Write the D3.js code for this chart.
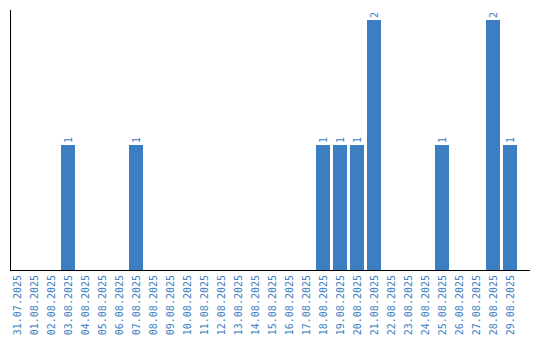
<!DOCTYPE html>
<html><head><meta charset="utf-8">
<script src="https://cdn.jsdelivr.net/npm/d3@7"></script>
<style>body{margin:0;background:#fff}svg{display:block}</style>
</head><body>
<svg id="c" width="540" height="340"></svg>
<script>
const categories = ["31.07.2025","01.08.2025","02.08.2025","03.08.2025","04.08.2025","05.08.2025","06.08.2025","07.08.2025","08.08.2025","09.08.2025","10.08.2025","11.08.2025","12.08.2025","13.08.2025","14.08.2025","15.08.2025","16.08.2025","17.08.2025","18.08.2025","19.08.2025","20.08.2025","21.08.2025","22.08.2025","23.08.2025","24.08.2025","25.08.2025","26.08.2025","27.08.2025","28.08.2025","29.08.2025"];
const values = [0,0,0,1,0,0,0,1,0,0,0,0,0,0,0,0,0,0,1,1,1,2,0,0,0,1,0,0,2,1];

const svg = d3.select("#c");
const color = "#3b7ec1";
const font = "'DejaVu Sans Mono', monospace";
const x = d3.scaleBand().domain(categories).range([10, 517]).paddingInner(3/17).paddingOuter(0);
const y = d3.scaleLinear().domain([0, 2]).range([270, 20]);

const data = categories.map((c, i) => ({c, v: values[i]}));

svg.selectAll("rect.bar").data(data.filter(d => d.v > 0)).join("rect")
  .attr("class", "bar")
  .attr("x", d => x(d.c)).attr("width", x.bandwidth())
  .attr("y", d => y(d.v)).attr("height", d => y(0) - y(d.v))
  .attr("fill", color);

svg.selectAll("text.val").data(data.filter(d => d.v > 0)).join("text")
  .attr("class", "val")
  .attr("transform", d => `translate(${x(d.c) + x.bandwidth()/2 + 3.5},${y(d.v) - 2}) rotate(-90)`)
  .attr("font-family", font).attr("font-size", 10)
  .attr("fill", color).text(d => d.v);

const xAxis = d3.axisBottom(x).tickSize(0).tickPadding(0);
const gx = svg.append("g").attr("transform", "translate(0,270)").call(xAxis);
gx.select(".domain").remove();
gx.selectAll("text")
  .attr("font-family", font).attr("font-size", 10).attr("fill", color)
  .attr("text-anchor", "end").attr("dy", null)
  .attr("transform", "translate(3.5,5) rotate(-90)")
  .attr("x", 0).attr("y", 0);

svg.append("line").attr("x1", 10.5).attr("x2", 10.5).attr("y1", 10).attr("y2", 270.5)
  .attr("stroke", "#000").attr("stroke-width", 1);
svg.append("line").attr("x1", 10).attr("x2", 530).attr("y1", 270.5).attr("y2", 270.5)
  .attr("stroke", "#000").attr("stroke-width", 1);
</script>
</body></html>
